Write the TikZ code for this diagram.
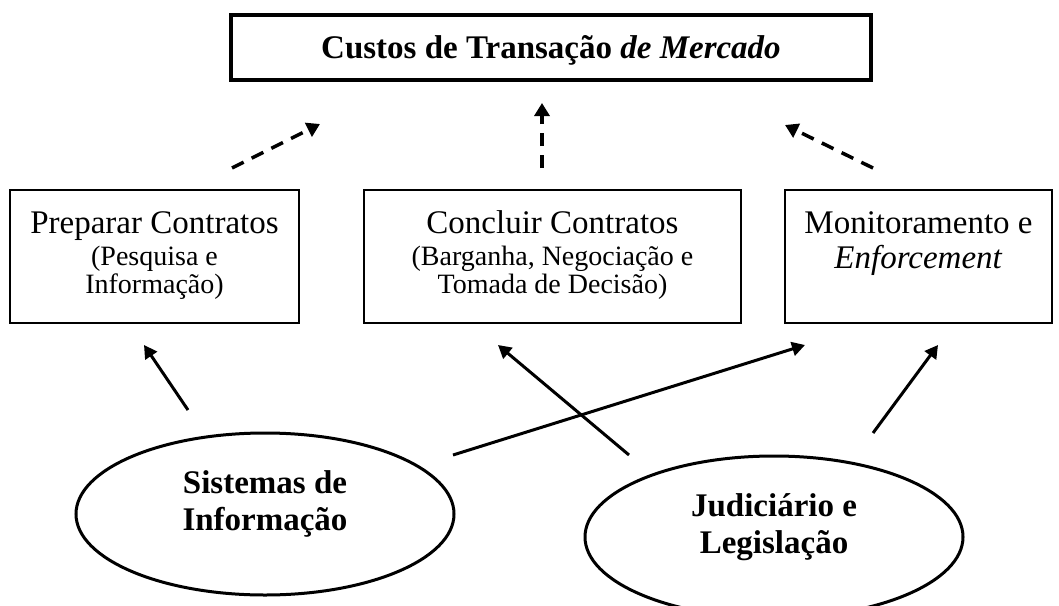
\documentclass[tikz,border=0pt]{standalone}
\usepackage{fontspec}
\setmainfont{Liberation Serif}
\usetikzlibrary{shapes.geometric,arrows.meta}
\newcommand{\maintxt}{\fontsize{33}{37}\selectfont}
\newcommand{\subtxt}{\fontsize{28}{28}\selectfont}

\begin{document}
\begin{tikzpicture}[x=1pt,y=-1pt,
	caixa/.style={draw,line width=1.3pt,inner sep=0pt},
	elipse/.style={draw,ellipse,line width=3pt,inner sep=0pt,minimum width=378,minimum height=162},
	seta/.style={line width=3pt,-{Triangle[length=13pt,width=14pt]}},
	tracejada/.style={line width=3.5pt,dash pattern=on 13pt off 9pt,-{Triangle[length=13pt,width=15pt]}}]
				\useasboundingbox (0,0) rectangle (1059,605);
				\node[caixa,line width=3.3pt,minimum width=640,minimum height=65] (custos) at (551,47.5) {};
				\node[anchor=base] (custost) at (551,58) {\maintxt\textbf{Custos de Transação \textit{de Mercado}}};
				\node[caixa,minimum width=289,minimum height=133] (prep) at (154.5,256.5) {};
				\node[caixa,minimum width=377,minimum height=133] (concl) at (552.5,256.5) {};
				\node[caixa,minimum width=267,minimum height=133] (monit) at (918.5,256.5) {};
				\node[anchor=base] (prept) at (154.5,233) {\maintxt Preparar Contratos};
				\node[anchor=base] (preps1) at (154.5,265) {\subtxt (Pesquisa e};
				\node[anchor=base] (preps2) at (154.5,293) {\subtxt Informação)};
				\node[anchor=base] (conclt) at (552.5,233) {\maintxt Concluir Contratos};
				\node[anchor=base] (concls1) at (552.5,265) {\subtxt (Barganha, Negociação e};
				\node[anchor=base] (concls2) at (552.5,293) {\subtxt Tomada de Decisão)};
				\node[anchor=base] (monitt) at (918.5,233) {\maintxt Monitoramento e};
				\node[anchor=base] (monits) at (918.5,268) {\maintxt\textit{Enforcement}};
				\node[elipse] (sist) at (265,514) {};
				\node[align=center,font=\maintxt\bfseries] (sistt) at (265,504) {Sistemas de\\Informação};
				\node[elipse] (jud) at (774,537) {};
				\node[align=center,font=\maintxt\bfseries] (judt) at (774,527) {Judiciário e\\Legislação};
				\coordinate (d1a) at (232,168);
				\coordinate (d1b) at (320,124);
				\coordinate (d2a) at (542,168);
				\coordinate (d2b) at (542,103);
				\coordinate (d3a) at (873,168);
				\coordinate (d3b) at (785,125);
				\draw[tracejada] (d1a) -- (d1b);
				\draw[tracejada] (d2a) -- (d2b);
				\draw[tracejada] (d3a) -- (d3b);
				\coordinate (s1) at (188,410);
				\coordinate (p1) at (144,345);
				\coordinate (s2) at (453,455);
				\coordinate (m1) at (805,345);
				\coordinate (j1) at (629,455);
				\coordinate (c1) at (498,345);
				\coordinate (j2) at (873,433);
				\coordinate (m2) at (938,345);
				\draw[seta] (s1) -- (p1);
				\draw[seta] (s2) -- (m1);
				\draw[seta] (j1) -- (c1);
				\draw[seta] (j2) -- (m2);
			\end{tikzpicture}
\end{document}
